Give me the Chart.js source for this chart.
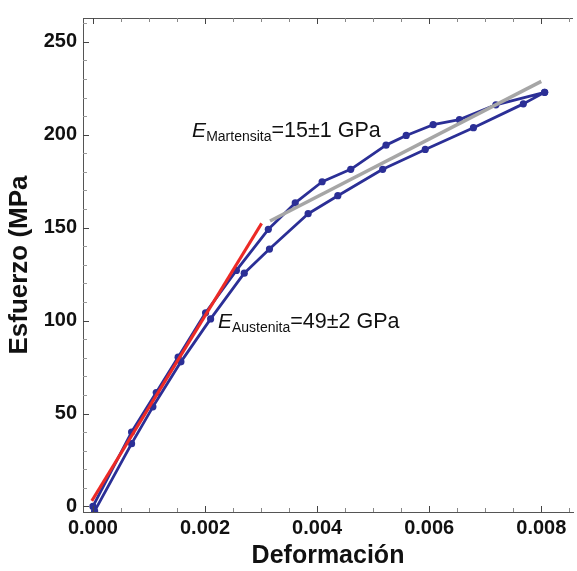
<!DOCTYPE html>
<html>
<head>
<meta charset="utf-8">
<script src="https://cdn.jsdelivr.net/npm/chart.js@4.4.1/dist/chart.umd.min.js"></script>
<style>
  html, body { margin: 0; padding: 0; background: #fff; }
  #wrap { width: 577px; height: 571px; }
</style>
</head>
<body>
<div id="wrap"><canvas id="grafEsfuerzo" width="577" height="571"></canvas></div>
<script>
// curva de carga (rama superior) y descarga (rama inferior)
const deformCarga = [0, 0.00069, 0.00113, 0.00152, 0.00201, 0.00256, 0.00313, 0.00361, 0.00409, 0.0046, 0.00523, 0.00559, 0.00607, 0.00654, 0.00719, 0.00806]
const esfuerzoCarga = [0, 40, 61.3, 80.3, 104.2, 127, 149.1, 163.3, 174.7, 181.4, 194.4, 199.6, 205.4, 208.1, 216.1, 222.8]
const deformDescarga = [0.00806, 0.00768, 0.00679, 0.00593, 0.00517, 0.00437, 0.00384, 0.00315, 0.0027, 0.0021, 0.00157, 0.00107, 0.00069, 0.00003]
const esfuerzoDescarga = [222.8, 216.6, 203.8, 192.1, 181.4, 167.2, 157.5, 138.5, 125.5, 100.9, 77.8, 53.6, 33.8, -2.5]

// ajustes lineales
const deformAustenita = [-0.00002, 0.00301]
const esfuerzoAustenita = [3, 152.3]
const deformMartensita = [0.00316, 0.0080]
const esfuerzoMartensita = [153.6, 228.7]

const ticksX = [0, 0.002, 0.004, 0.006, 0.008]
const ticksY = [0, 50, 100, 150, 200, 250]

const etiquetas = [
    { x: 0.00177, y: 198.9, sub: 'Martensita', texto: '=15\u00b11 GPa' },
    { x: 0.00223, y: 95.9, sub: 'Austenita', texto: '=49\u00b12 GPa' },
]

const fuente = "'Liberation Sans', Arial, sans-serif"
const azul = '#2b2f96'

const puntos = (xs, ys) => xs.map((x, i) => ({ x: x, y: ys[i] }))

const marcoTicks = {
    id: 'marcoTicks',
    afterDraw(chart) {
        const ctx = chart.ctx
        const a = chart.chartArea
        const sx = chart.scales.x
        const sy = chart.scales.y
        ctx.save()
        ctx.strokeStyle = '#555'
        ctx.lineWidth = 1
        ctx.beginPath()
        ctx.moveTo(a.left, a.top + 0.5)
        ctx.lineTo(a.right, a.top + 0.5)
        ctx.stroke()
        // ticks hacia adentro
        for (let i = 0; i <= 17; i++) {
            let v = i * 0.0005
            let px = Math.round(sx.getPixelForValue(v)) + 0.5
            let largo = (i % 4 === 0) ? 6 : 4
            ctx.strokeStyle = (i % 4 === 0) ? '#444' : '#888'
            ctx.beginPath()
            ctx.moveTo(px, a.bottom)
            ctx.lineTo(px, a.bottom - largo)
            ctx.moveTo(px, a.top)
            ctx.lineTo(px, a.top + largo)
            ctx.stroke()
        }
        for (let i = 0; i <= 26; i++) {
            let v = i * 10
            let py = Math.round(sy.getPixelForValue(v)) + 0.5
            let largo = (i % 5 === 0) ? 6 : 4
            ctx.strokeStyle = (i % 5 === 0) ? '#444' : '#999'
            ctx.beginPath()
            ctx.moveTo(a.left, py)
            ctx.lineTo(a.left + largo, py)
            ctx.stroke()
        }
        // etiquetas de modulo
        ctx.fillStyle = '#111'
        ctx.textBaseline = 'alphabetic'
        etiquetas.forEach(e => {
            let px = sx.getPixelForValue(e.x)
            let py = sy.getPixelForValue(e.y)
            ctx.font = `italic 21px ${fuente}`
            ctx.fillText('E', px, py)
            px += ctx.measureText('E').width
            ctx.font = `14px ${fuente}`
            ctx.fillText(e.sub, px, py + 4)
            px += ctx.measureText(e.sub).width
            ctx.font = `21.5px ${fuente}`
            ctx.fillText(e.texto, px, py)
        })
        ctx.restore()
    }
}

let grafEsfuerzo = new Chart(document.getElementById('grafEsfuerzo'), {
    type: 'scatter',
    data: {
        datasets: [
            {
                label: 'Austenita',
                data: puntos(deformAustenita, esfuerzoAustenita),
                showLine: true,
                borderColor: '#ec2a26',
                borderWidth: 3,
                pointRadius: 0,
                order: 0,
            },
            {
                label: 'Martensita',
                data: puntos(deformMartensita, esfuerzoMartensita),
                showLine: true,
                borderColor: '#a6a6a6',
                borderWidth: 3.5,
                pointRadius: 0,
                order: 1,
            },
            {
                label: 'Ensayo',
                data: puntos(deformCarga.concat(deformDescarga), esfuerzoCarga.concat(esfuerzoDescarga)),
                showLine: true,
                borderColor: azul,
                borderWidth: 2.8,
                borderJoinStyle: 'round',
                backgroundColor: azul,
                pointBackgroundColor: azul,
                pointBorderWidth: 0,
                pointRadius: 3.6,
                order: 2,
            },
        ]
    },
    options: {
        responsive: false,
        animation: false,
        devicePixelRatio: 1,
        layout: { padding: { top: 13, right: 0, left: 0, bottom: 0 } },
        plugins: {
            legend: { display: false },
            tooltip: { enabled: false },
        },
        scales: {
            x: {
                type: 'linear',
                min: -0.000177,
                max: 0.008566,
                afterBuildTicks: s => { s.ticks = ticksX.map(v => ({ value: v })) },
                afterFit: s => { s.height = 59 },
                grid: { display: false, drawTicks: false, tickLength: 0 },
                border: { display: true, color: '#555', width: 1 },
                ticks: {
                    autoSkip: false,
                    maxRotation: 0,
                    padding: 4,
                    color: '#111',
                    font: { family: fuente, size: 20, weight: 'bold' },
                    callback: v => Number(v).toFixed(3),
                },
                title: {
                    display: true,
                    text: 'Deformación',
                    color: '#111',
                    font: { family: fuente, size: 25, weight: 'bold' },
                    padding: { top: 2, bottom: 0 },
                },
            },
            y: {
                type: 'linear',
                min: -2.98,
                max: 262.8,
                afterBuildTicks: s => { s.ticks = ticksY.map(v => ({ value: v })) },
                afterFit: s => { s.width = 83 },
                grid: { display: false, drawTicks: false, tickLength: 0 },
                border: { display: true, color: '#555', width: 1 },
                ticks: {
                    autoSkip: false,
                    padding: 6,
                    color: '#111',
                    font: { family: fuente, size: 20, weight: 'bold' },
                    callback: v => String(v),
                },
                title: {
                    display: true,
                    text: 'Esfuerzo (MPa',
                    color: '#111',
                    font: { family: fuente, size: 26, weight: 'bold' },
                    padding: { top: 4, bottom: 0 },
                },
            },
        },
    },
    plugins: [marcoTicks],
})
</script>
</body>
</html>
